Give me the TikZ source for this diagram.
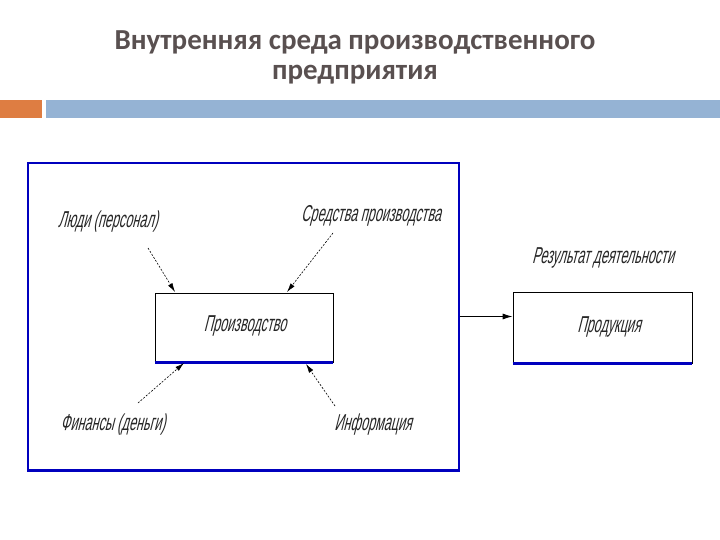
\documentclass[tikz,border=0pt]{standalone}
\usepackage{fontspec}
\setmainfont{Carlito}
\newfontfamily\gost[FakeSlant=0.25,FakeStretch=0.55]{Liberation Sans}
\usetikzlibrary{arrows.meta}
\definecolor{titlecol}{RGB}{89,80,80}
\definecolor{orangebar}{RGB}{222,125,66}
\definecolor{bluebar}{RGB}{149,179,212}
\definecolor{framecol}{RGB}{0,0,190}
\tikzset{
  lbl/.style={font=\gost\fontsize{23}{26}\selectfont, text=black!85, inner sep=0pt},
  box/.style={draw=black, line width=0.8pt, fill=white, inner sep=0pt},
  feed/.style={dashed, dash pattern=on 2pt off 1.5pt, line width=0.6pt, -{Latex[length=9pt,width=5pt]}},
  flow/.style={line width=0.9pt, -{Latex[length=10pt,width=6pt]}},
  edge/.style={draw=framecol, line width=2.5pt}
}
\begin{document}
\begin{tikzpicture}[x=1pt,y=-1pt]
\useasboundingbox (0,0) rectangle (720,540);
\fill[white] (0,0) rectangle (720,540);
% title
\node[font=\bfseries\fontsize{29}{34}\selectfont, text=titlecol] (t1) at (355,42) {Внутренняя среда производственного};
\node[font=\bfseries\fontsize{29}{34}\selectfont, text=titlecol] (t2) at (355,75) {предприятия};
% bars
\fill[orangebar] (0,100) rectangle (42,118);
\fill[bluebar] (46,100) rectangle (720,118);
% outer frame
\node[draw=framecol, line width=1.8pt, minimum width=431pt, minimum height=307pt, inner sep=0pt] (outer) at (243.5,316.5) {};
\draw[edge] (outer.south west) -- (outer.south east);
% production box
\node[box, minimum width=178pt, minimum height=69pt] (prod) at (244,327.5) {};
\draw[edge] (prod.south west) -- (prod.south east);
\node[lbl] (prodt) at (245,326) {Производство};
% product box
\node[box, minimum width=179pt, minimum height=71pt] (res) at (602.5,327.5) {};
\draw[edge] (res.south west) -- (res.south east);
\node[lbl] (rest) at (609,327) {Продукция};
% labels
\node[lbl] (people) at (108,222) {Люди (персонал)};
\node[lbl] (means) at (371,216) {Средства производства};
\node[lbl] (fin) at (113,425) {Финансы (деньги)};
\node[lbl] (info) at (373,425) {Информация};
\node[lbl] (result) at (603,258) {Результат деятельности};
% feed arrows
\coordinate (a1) at (148,248);
\coordinate (a2) at (333,233);
\coordinate (a3) at (138,403);
\coordinate (a4) at (335,406);
\draw[feed] (a1) -- (175,292);
\draw[feed] (a2) -- (287,292);
\draw[feed] (a3) -- (184,363);
\draw[feed] (a4) -- (306,364);
% output arrow
\draw[flow] (outer.east) -- (res.west |- outer.east);
\end{tikzpicture}
\end{document}
